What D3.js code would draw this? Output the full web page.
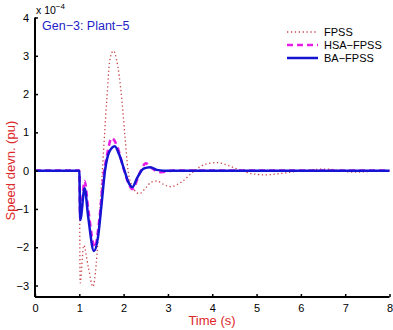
<!DOCTYPE html>
<html>
<head>
<meta charset="utf-8">
<script src="https://cdn.jsdelivr.net/npm/d3@7"></script>
<style>
  html, body { margin: 0; padding: 0; background: #fff; }
  svg { display: block; font-family: "Liberation Sans", Arial, sans-serif; }
</style>
</head>
<body>
<svg id="chart" width="393" height="330"></svg>
<script>
// Speed deviation of Gen-3 (Plant-5), values in units of 1e-4 pu
const timeTicks = [0, 1, 2, 3, 4, 5, 6, 7, 8];
const devnTicks = [-3, -2, -1, 0, 1, 2, 3, 4];

const fpss = [
  [0, 0], [1, 0], [1.02, -2.93], [1.1, -1.95], [1.2, -2.5], [1.31, -3.03],
  [1.38, -2.45], [1.45, -1.3], [1.52, 0], [1.62, 1.85], [1.69, 2.9], [1.77, 3.13],
  [1.84, 2.9], [1.96, 1.85], [2.03, 0.9], [2.1, 0], [2.2, -0.42], [2.35, -0.6],
  [2.5, -0.45], [2.62, -0.3], [2.75, -0.27], [2.9, -0.36], [3.05, -0.42], [3.3, -0.3],
  [3.6, 0], [3.85, 0.17], [4.1, 0.21], [4.35, 0.14], [4.65, 0], [4.9, -0.08],
  [5.2, -0.11], [5.5, -0.08], [6.05, 0], [6.55, 0.04], [7.2, -0.04], [7.6, -0.02], [8, 0]
];

const hsaFpss = [
  [0, 0], [1, 0], [1.02, -1.25], [1.12, -0.27], [1.2, -1.0], [1.35, -2.0],
  [1.45, -1.3], [1.55, -0.1], [1.62, 0.37], [1.73, 0.85], [1.85, 0.65], [2.0, 0.05],
  [2.1, -0.3], [2.2, -0.48], [2.35, -0.1], [2.5, 0.19], [2.65, 0.05], [2.85, -0.04],
  [3.1, 0], [8, 0]
];

const baFpss = [
  [0, 0], [1, 0], [1.02, -1.29], [1.12, -0.46], [1.2, -1.2], [1.33, -2.1],
  [1.42, -1.75], [1.5, -0.9], [1.58, 0], [1.68, 0.5], [1.8, 0.64], [1.9, 0.42],
  [2.02, 0], [2.1, -0.28], [2.2, -0.43], [2.3, -0.2], [2.45, 0.05], [2.6, 0.09],
  [2.75, 0.02], [2.9, 0], [8, 0]
];

const seriesNames = ["FPSS", "HSA\u2212FPSS", "BA\u2212FPSS"];

const svg = d3.select("#chart");

const x = d3.scaleLinear().domain([0, 8]).range([35, 389.5]);
const y = d3.scaleLinear().domain([-3.3, 4]).range([297, 17.5]);

const styles = [
  { color: "#c8464a", width: 1.3, dash: "1.3,2.6" },
  { color: "#e61ee6", width: 2.6, dash: "6,4" },
  { color: "#1414d2", width: 2.5, dash: null }
];

const line = d3.line()
  .x(d => x(d[0]))
  .y(d => y(d[1]))
  .curve(d3.curveMonotoneX);

[fpss, hsaFpss, baFpss].forEach((data, i) => {
  const s = styles[i];
  svg.append("path")
    .datum(data)
    .attr("fill", "none")
    .attr("stroke", s.color)
    .attr("stroke-width", s.width)
    .attr("stroke-dasharray", s.dash)
    .attr("stroke-linejoin", "round")
    .attr("d", line);
});

// axes: left and bottom only, ticks pointing inward
const xAxis = svg.append("g")
  .attr("transform", `translate(0,${y(-3.3)})`)
  .call(d3.axisBottom(x).tickValues(timeTicks).tickSize(-3).tickPadding(7).tickFormat(d3.format("d")));
const yAxis = svg.append("g")
  .attr("transform", `translate(${x(0)},0)`)
  .call(d3.axisLeft(y).tickValues(devnTicks).tickSize(-3).tickPadding(6).tickFormat(d3.format("d")));

[xAxis, yAxis].forEach(g => {
  g.select(".domain").attr("stroke", "#000").attr("stroke-width", 2);
  g.selectAll(".tick line").attr("stroke", "#000").attr("stroke-width", 1.5);
  g.selectAll(".tick text").attr("fill", "#000").style("font-size", "11px")
    .style("font-family", "'Liberation Sans', Arial, sans-serif");
});
// remove outer tick caps from the domain path
xAxis.select(".domain").attr("d", `M${x(0)},0H${x(8)}`);
yAxis.select(".domain").attr("d", `M0,${y(-3.3)}V${y(4)}`);

// exponent label
const expo = svg.append("text").attr("x", 36).attr("y", 14)
  .style("font-size", "10.5px").attr("fill", "#000");
expo.append("tspan").text("x 10");
expo.append("tspan").attr("dy", -5).style("font-size", "8px").text("\u22124");

// title
svg.append("text").attr("x", 42).attr("y", 30)
  .style("font-size", "12.5px").attr("fill", "#1e1ec8")
  .text("Gen\u22123: Plant\u22125");

// axis titles
svg.append("text")
  .attr("transform", `translate(15,${y(0)}) rotate(-90)`)
  .attr("text-anchor", "middle")
  .style("font-size", "13px").attr("fill", "#dc2828")
  .text("Speed devn. (pu)");
svg.append("text")
  .attr("x", 212).attr("y", 325)
  .attr("text-anchor", "middle")
  .style("font-size", "13px").attr("fill", "#dc2828")
  .text("Time (s)");

// legend
const legendRows = [32, 45, 58];
seriesNames.forEach((name, i) => {
  const s = styles[i];
  const ly = legendRows[i];
  svg.append("line")
    .attr("x1", 287).attr("x2", 318).attr("y1", ly).attr("y2", ly)
    .attr("stroke", s.color).attr("stroke-width", s.width)
    .attr("stroke-dasharray", s.dash);
  svg.append("text")
    .attr("x", 324).attr("y", ly + 4)
    .style("font-size", "11px").attr("fill", "#000")
    .text(name);
});
</script>
</body>
</html>
